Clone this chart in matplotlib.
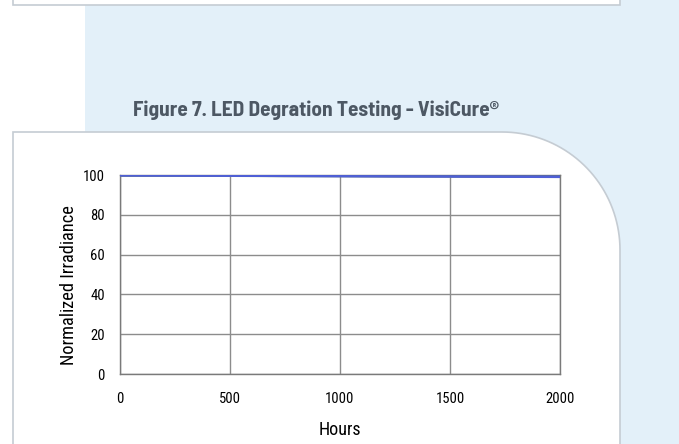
import numpy as np
import matplotlib
matplotlib.use("Agg")
import matplotlib.pyplot as plt
from matplotlib.path import Path
from matplotlib.patches import PathPatch, Rectangle
from matplotlib.transforms import IdentityTransform

# ---- data ----
hours = [0, 250, 500, 750, 1000, 1250, 1500, 1750, 2000]
series_a = [100, 100, 99.9, 99.8, 99.7, 99.6, 99.6, 99.5, 99.4]
series_b = [99.8, 99.7, 99.6, 99.5, 99.4, 99.3, 99.2, 99.1, 99.0]
series_c = [99.9, 99.8, 99.7, 99.6, 99.6, 99.5, 99.4, 99.3, 99.2]
x_ticks = [0, 500, 1000, 1500, 2000]
y_ticks = [0, 20, 40, 60, 80, 100]
title = "Figure 7. LED Degration Testing - VisiCure\u00ae"
xlabel = "Hours"
ylabel = "Normalized Irradiance"

AX_FONT = ["Roboto Condensed", "DejaVu Sans"]
TITLE_FONT = ["Barlow Semi Condensed", "DejaVu Sans"]

W, H = 679, 444
fig = plt.figure(figsize=(W / 100, H / 100), dpi=100)
fig.patch.set_facecolor("white")

def px(x, y):
    return (x, H - y)

ident = IdentityTransform()
# light blue background
fig.add_artist(Rectangle(px(85, H), W - 85, H, transform=ident,
                         facecolor="#e3f0f9", edgecolor="none", zorder=0))
# top white box
fig.add_artist(Rectangle(px(13, 5), 620 - 13, 20, transform=ident,
                         facecolor="white", edgecolor="#c5ccd3", lw=1.2, zorder=1))
# card with rounded top-right corner
r = 118
top, left, right = 132, 13, 620
theta = np.linspace(np.pi / 2, 0, 40)
cx, cy = right - r, top + r
pts = [px(left, H + 10), px(left, top)]
pts += [px(cx + r * np.cos(t), cy - r * np.sin(t)) for t in theta]
pts += [px(right, H + 10)]
card = PathPatch(Path(pts), transform=ident, facecolor="white",
                 edgecolor="#c5ccd3", lw=1.2, zorder=1)
fig.add_artist(card)

fig.text(316 / W, 1 - 110 / H, title, ha="center", va="center",
         fontsize=15.3, fontweight="bold", color="#4d5864", family=TITLE_FONT)

ax = fig.add_axes([120 / W, (H - 374) / H, 440 / W, 199 / H])
ax.set_facecolor("white")
ax.set_zorder(3)
ax.plot(hours, series_c, color="#7f9f74", lw=2, zorder=3)
ax.plot(hours, series_a, color="#5b6b9c", lw=2.4, zorder=4)
ax.plot(hours, series_b, color="#4f5fd6", lw=1.6, zorder=5)
ax.set_xlim(0, 2000)
ax.set_ylim(0, 100)
ax.set_xticks(x_ticks)
ax.set_yticks(y_ticks)
ax.grid(True, color="#8c8c8c", lw=1)
ax.set_axisbelow(True)
for s in ax.spines.values():
    s.set_color("#7a7a7a")
    s.set_linewidth(1)
ax.tick_params(length=0, labelsize=10.5, colors="black")
ax.tick_params(axis="x", pad=13)
ax.tick_params(axis="y", pad=11)
for lab in ax.get_xticklabels() + ax.get_yticklabels():
    lab.set_family(AX_FONT)
ax.set_xlabel(xlabel, fontsize=13, family=AX_FONT, labelpad=11)
ax.set_ylabel(ylabel, fontsize=13.2, family=AX_FONT, va="center")
ax.yaxis.set_label_coords((69 - 120) / 440, (374 - 285) / 199)

fig.savefig("out.png", dpi=100)
